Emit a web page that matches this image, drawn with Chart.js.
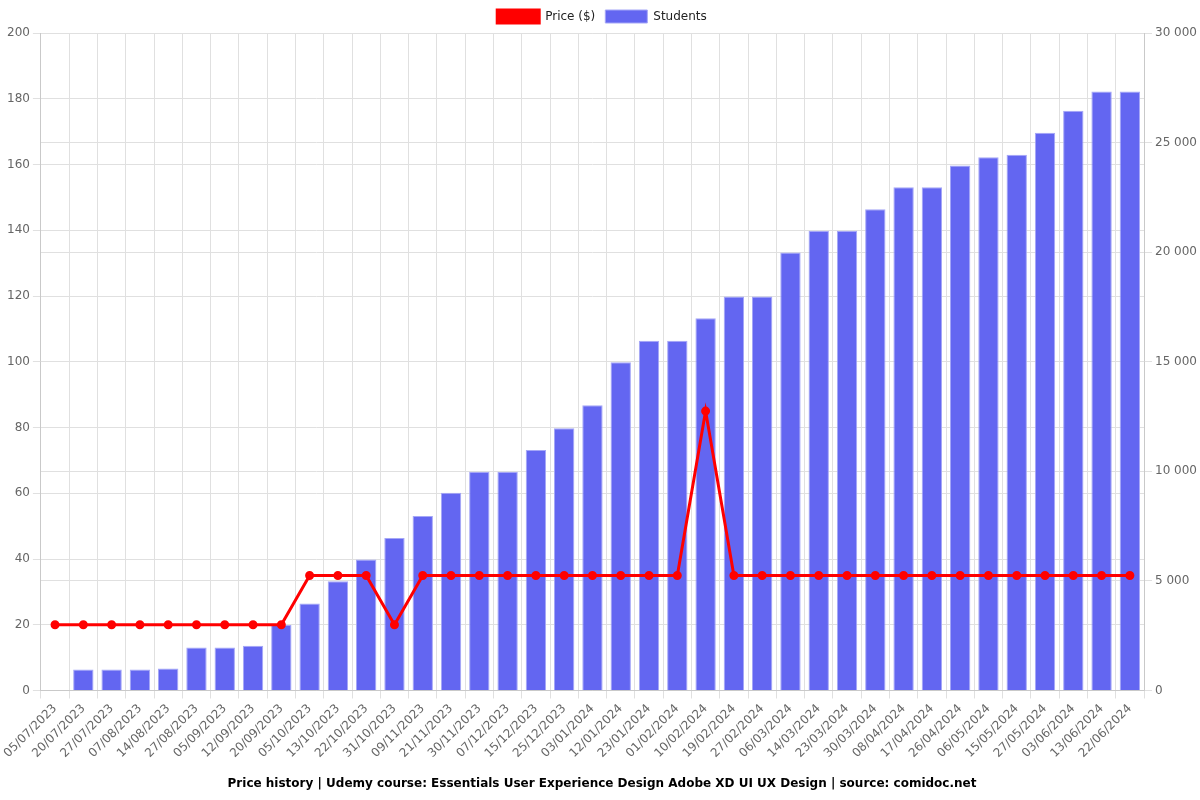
<!DOCTYPE html>
<html>
<head>
<meta charset="utf-8">
<script src="https://cdn.jsdelivr.net/npm/chart.js@4/dist/chart.umd.min.js"></script>
<style>
  html, body { margin: 0; padding: 0; background: #fff; }
  #wrap { width: 1200px; height: 800px; }
</style>
</head>
<body>
<div id="wrap"><canvas id="c"></canvas></div>
<script>
const dates = [
  '05/07/2023', '20/07/2023', '27/07/2023', '07/08/2023', '14/08/2023', '27/08/2023',
  '05/09/2023', '12/09/2023', '20/09/2023', '05/10/2023', '13/10/2023', '22/10/2023',
  '31/10/2023', '09/11/2023', '21/11/2023', '30/11/2023', '07/12/2023', '15/12/2023',
  '25/12/2023', '03/01/2024', '12/01/2024', '23/01/2024', '01/02/2024', '10/02/2024',
  '19/02/2024', '27/02/2024', '06/03/2024', '14/03/2024', '23/03/2024', '30/03/2024',
  '08/04/2024', '17/04/2024', '26/04/2024', '06/05/2024', '15/05/2024', '27/05/2024',
  '03/06/2024', '13/06/2024', '22/06/2024'
];

const price = [
  20, 20, 20, 20, 20, 20, 20, 20, 20, 35, 35, 35,
  20, 35, 35, 35, 35, 35, 35, 35, 35, 35, 35, 85,
  35, 35, 35, 35, 35, 35, 35, 35, 35, 35, 35, 35,
  35, 35, 35
];

const students = [
  0, 960, 960, 960, 1010, 1960, 1960, 2040, 2990, 3970, 4980, 5980,
  6960, 7960, 9020, 9980, 9980, 10970, 11970, 13010, 14980, 15960, 15960, 16980,
  17980, 17980, 19980, 20980, 20980, 21960, 22960, 22960, 23950, 24330, 24450, 25450,
  26450, 27330, 27330
];

const priceTicks = { min: 0, max: 200, step: 20 };
const studentTicks = { min: 0, max: 30000, step: 5000 };

Chart.defaults.font.family = '"DejaVu Sans", sans-serif';
Chart.defaults.font.size = 12;
Chart.defaults.color = '#666';

const fmt = v => String(v).replace(/\B(?=(\d{3})+(?!\d))/g, ' ');

new Chart(document.getElementById('c'), {
  data: {
    labels: dates,
    datasets: [
      {
        type: 'line',
        label: 'Price ($)',
        data: price,
        yAxisID: 'y',
        borderColor: '#ff0000',
        backgroundColor: '#ff0000',
        borderWidth: 3,
        pointRadius: 3,
        pointBackgroundColor: '#ff0000',
        tension: 0,
        order: 0
      },
      {
        type: 'bar',
        label: 'Students',
        data: students,
        yAxisID: 'y1',
        backgroundColor: '#6366f1',
        borderColor: 'rgba(165,167,247,1)',
        borderWidth: 1,
        order: 1
      }
    ]
  },
  options: {
    responsive: true,
    maintainAspectRatio: false,
    animation: false,
    layout: { padding: { left: 4, right: 0, top: 0, bottom: 9 } },
    plugins: {
      legend: {
        position: 'top',
        labels: { boxWidth: 42, boxHeight: 13, color: '#222', padding: 10 }
      },
      title: {
        display: true,
        position: 'bottom',
        text: 'Price history | Udemy course: Essentials User Experience Design Adobe XD UI UX Design | source: comidoc.net',
        color: '#000',
        font: { weight: 'bold', size: 12 },
        padding: { top: 13, bottom: 0 }
      },
      tooltip: { enabled: false }
    },
    scales: {
      x: {
        grid: { color: '#e0e0e0' },
        ticks: { maxRotation: 45, minRotation: 45, autoSkip: false, color: '#666' }
      },
      y: {
        position: 'left',
        min: priceTicks.min,
        max: priceTicks.max,
        ticks: { stepSize: priceTicks.step, color: '#666' },
        grid: { color: '#e0e0e0' }
      },
      y1: {
        position: 'right',
        min: studentTicks.min,
        max: studentTicks.max,
        ticks: { stepSize: studentTicks.step, color: '#666', callback: v => fmt(v) },
        grid: { color: '#e0e0e0' }
      }
    }
  }
});
</script>
</body>
</html>
